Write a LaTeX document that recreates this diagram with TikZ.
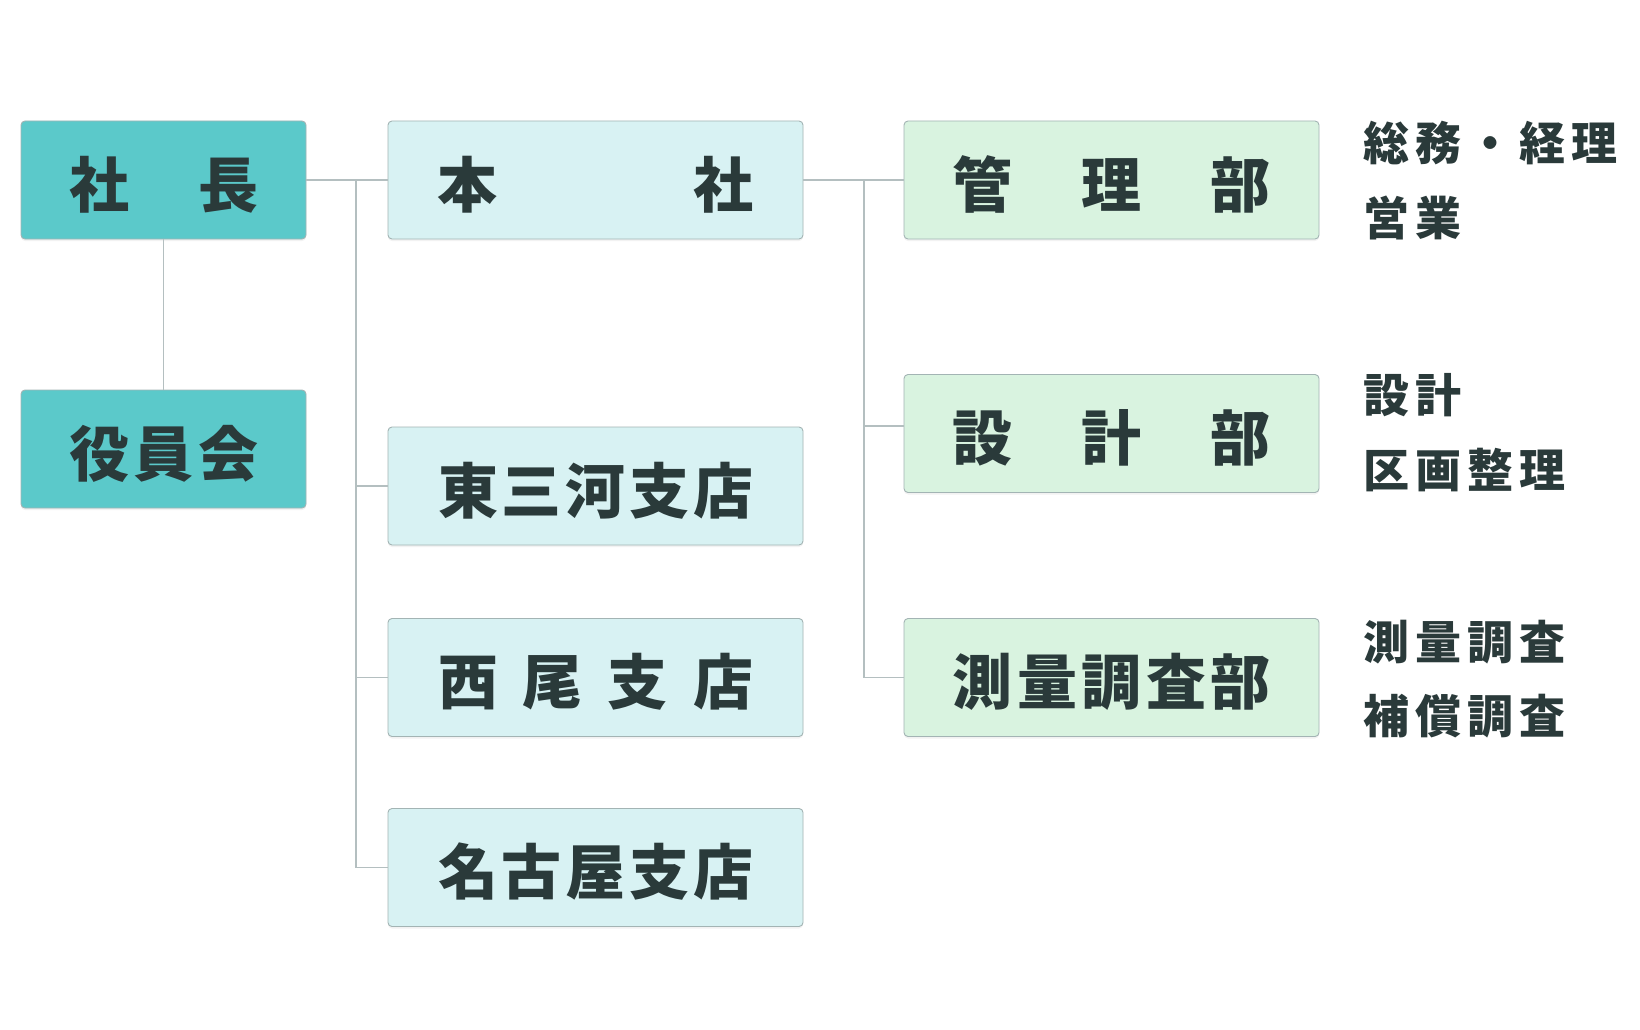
\documentclass[tikz,border=0pt]{standalone}
\usepackage{fontspec}
\setmainfont{Noto Sans CJK JP}
\usetikzlibrary{shadows}
\definecolor{cTeal}{HTML}{5BC9CA}
\definecolor{cCyan}{HTML}{D8F2F3}
\definecolor{cGreen}{HTML}{D9F3E0}
\definecolor{cInk}{HTML}{2A3A3A}
\definecolor{cLine}{HTML}{B4BFC0}
\definecolor{cEdge}{HTML}{A3B4B4}
\newcommand{\boxlabel}[2]{\raisebox{-4.5pt}[\height][\depth]{\makebox[#1][s]{#2}}\hspace{15pt}}
\begin{document}
\begin{tikzpicture}[x=1pt,y=-1pt,
  boxbase/.style={draw=cEdge, line width=0.9pt, rounded corners=4pt,
    minimum height=118pt, inner sep=0pt, text=cInk,
    font=\fontsize{60}{60}\selectfont\bfseries,
    drop shadow={shadow xshift=0pt, shadow yshift=-2pt, opacity=0.10}},
  topbox/.style={boxbase, fill=cTeal, minimum width=285pt},
  branchbox/.style={boxbase, fill=cCyan, minimum width=415pt},
  deptbox/.style={boxbase, fill=cGreen, minimum width=415pt},
  conn/.style={draw=cLine, line width=1.3pt},
  note/.style={anchor=base west, inner sep=0pt, text=cInk,
    font=\fontsize{46}{46}\selectfont\bfseries}]
\fill[white] (0,0) rectangle (1640,1030);
\useasboundingbox (0,0) rectangle (1640,1030);

% boxes
\node[topbox] (shacho) at (163.5,180) {\boxlabel{189pt}{社\hfill 長}};
\node[topbox] (yakuin) at (163.5,449) {\boxlabel{189pt}{役\hfill 員\hfill 会}};

\node[branchbox] (honsha) at (595.5,180) {\boxlabel{316pt}{本\hfill 社}};
\node[branchbox] (higashi) at (595.5,486) {\boxlabel{315pt}{東\hfill 三\hfill 河\hfill 支\hfill 店}};
\node[branchbox] (nishio) at (595.5,677.5) {\boxlabel{315pt}{西\hfill 尾\hfill 支\hfill 店}};
\node[branchbox] (nagoya) at (595.5,867.5) {\boxlabel{315pt}{名\hfill 古\hfill 屋\hfill 支\hfill 店}};

\node[deptbox] (kanri) at (1111.5,180) {\boxlabel{318pt}{管\hfill 理\hfill 部}};
\node[deptbox] (sekkei) at (1111.5,433.5) {\boxlabel{318pt}{設\hfill 計\hfill 部}};
\node[deptbox] (sokuryo) at (1111.5,677.5) {\boxlabel{318pt}{測\hfill 量\hfill 調\hfill 査\hfill 部}};

% connectors
\coordinate (j1) at (356,180);
\coordinate (j2) at (864,180);
\draw[conn] (shacho.south) -- (yakuin.north);
\draw[conn] (shacho.east) -- (honsha.west);
\draw[conn] (j1) |- (higashi.west);
\draw[conn] (j1) |- (nishio.west);
\draw[conn] (j1) |- (nagoya.west);
\draw[conn] (honsha.east) -- (kanri.west);
\draw[conn] (j2) |- ([yshift=7.5pt]sekkei.west);
\draw[conn] (j2) |- (sokuryo.west);

% notes
\node[note] (n1a) at (1363,160) {総\kern6pt 務\kern6pt ・\kern6pt 経\kern6pt 理};
\node[note] (n1b) at (1363,235) {営\kern6pt 業};
\node[note] (n2a) at (1363,412) {設\kern6pt 計};
\node[note] (n2b) at (1363,487) {区\kern6pt 画\kern6pt 整\kern6pt 理};
\node[note] (n3a) at (1363,659) {測\kern6pt 量\kern6pt 調\kern6pt 査};
\node[note] (n3b) at (1363,733) {補\kern6pt 償\kern6pt 調\kern6pt 査};
\end{tikzpicture}
\end{document}
